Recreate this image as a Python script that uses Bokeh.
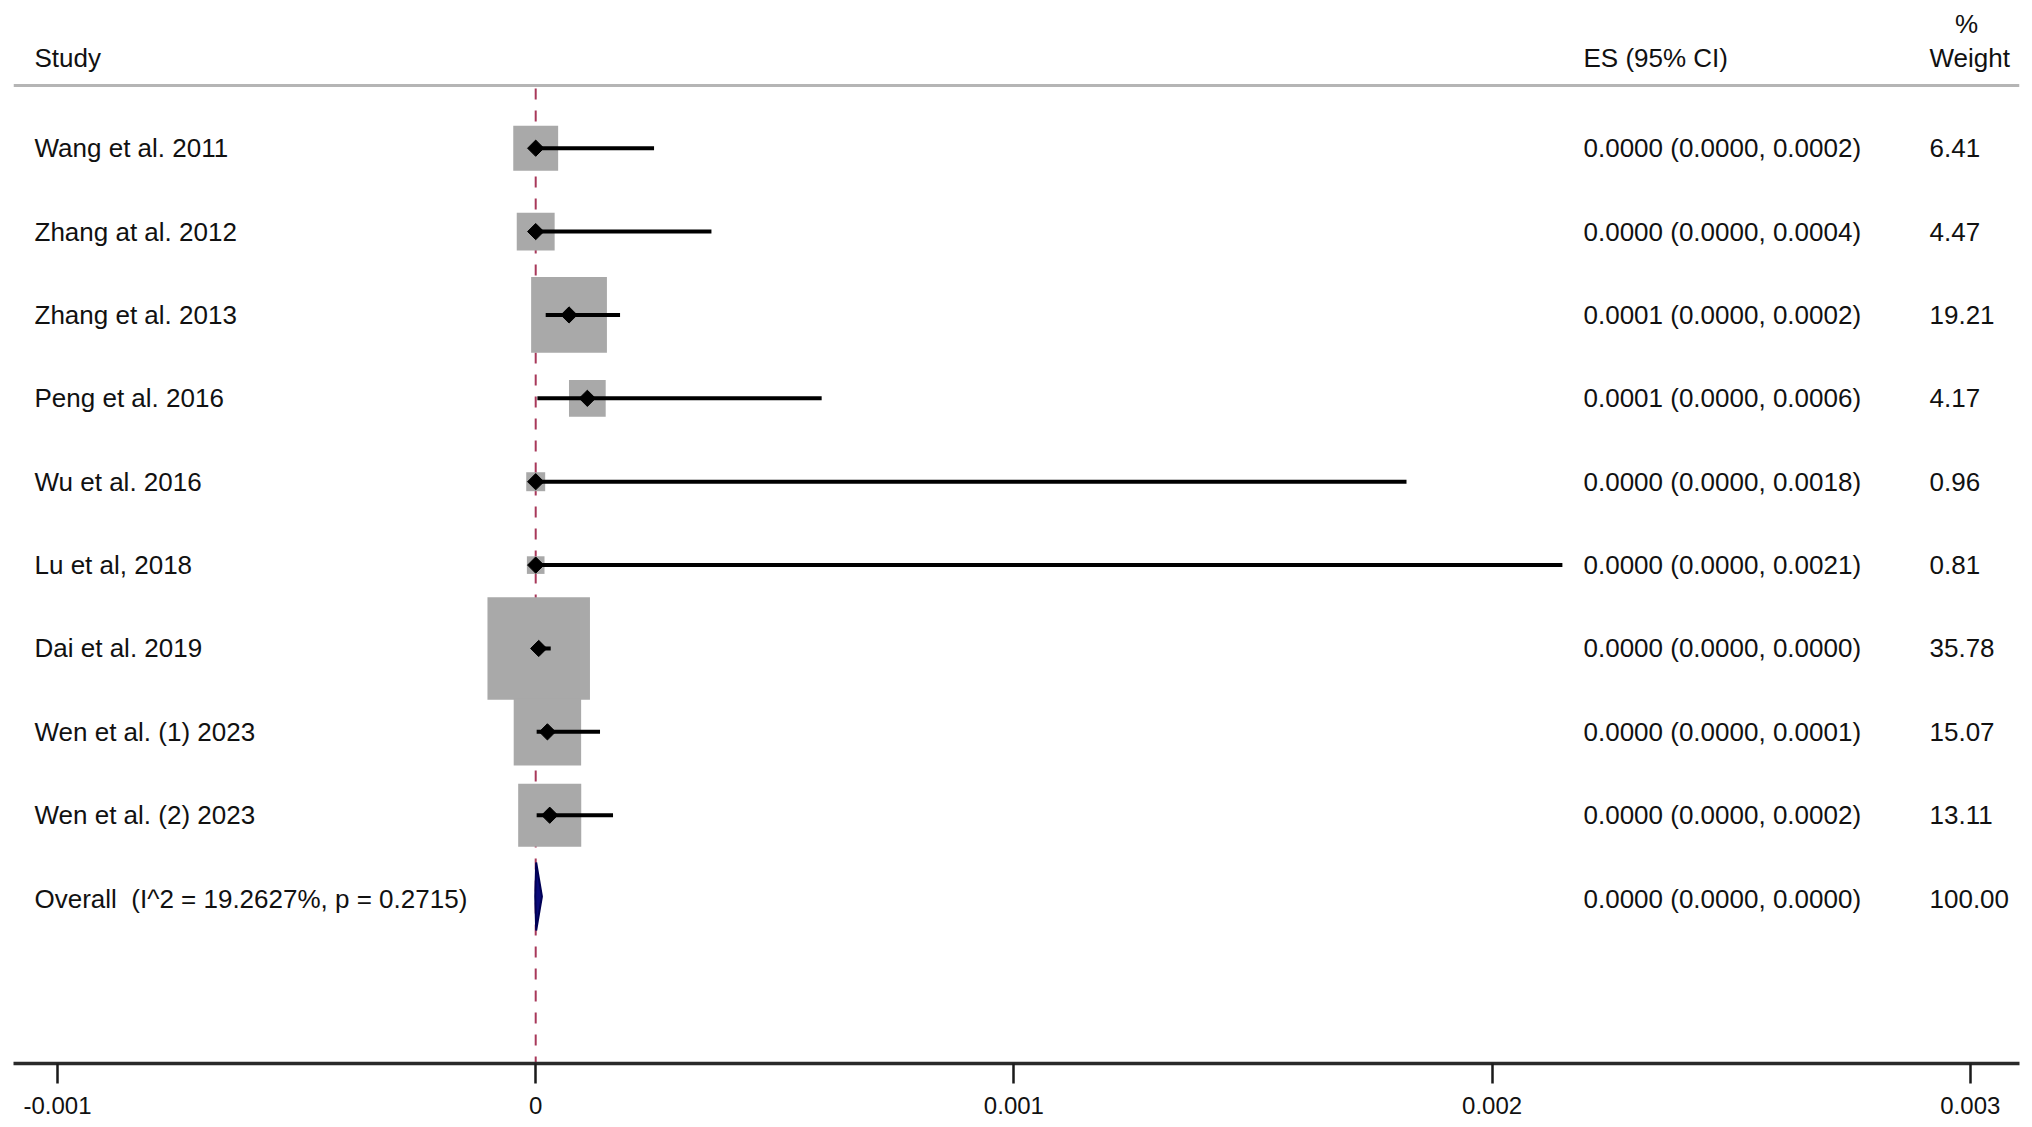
from bokeh.plotting import figure
from bokeh.models import Range1d, FixedTicker, CustomJSTickFormatter
from bokeh.core.properties import value
from bokeh.embed import file_html
from bokeh.resources import INLINE
import math

# ---------------- data ----------------
studies = ["Wang et al. 2011", "Zhang at al. 2012", "Zhang et al. 2013", "Peng et al. 2016",
           "Wu et al. 2016", "Lu et al, 2018", "Dai et al. 2019", "Wen et al. (1) 2023",
           "Wen et al. (2) 2023"]
es = [0.0000000, 0.0000000, 0.0000697, 0.0001080, 0.0000000, 0.0000000, 0.0000063, 0.0000245, 0.0000293]
ci_low = [0.0000000, 0.0000000, 0.0000209, 0.0000035, 0.0000000, 0.0000000, 0.0000000, 0.0000020, 0.0000020]
ci_high = [0.0002475, 0.0003675, 0.0001764, 0.0005980, 0.0018210, 0.0021470, 0.0000314, 0.0001345, 0.0001617]
es_labels = ["0.0000 (0.0000, 0.0002)", "0.0000 (0.0000, 0.0004)", "0.0001 (0.0000, 0.0002)",
             "0.0001 (0.0000, 0.0006)", "0.0000 (0.0000, 0.0018)", "0.0000 (0.0000, 0.0021)",
             "0.0000 (0.0000, 0.0000)", "0.0000 (0.0000, 0.0001)", "0.0000 (0.0000, 0.0002)"]
weights = [6.41, 4.47, 19.21, 4.17, 0.96, 0.81, 35.78, 15.07, 13.11]
weight_labels = ["6.41", "4.47", "19.21", "4.17", "0.96", "0.81", "35.78", "15.07", "13.11"]

overall_label = "Overall\u00a0 (I^2 = 19.2627%, p = 0.2715)"
overall_es = 0.0000010
overall_low = -0.0000010
overall_high = 0.0000130
overall_es_label = "0.0000 (0.0000, 0.0000)"
overall_weight_label = "100.00"

null_value = 0.0
x_ticks = [-0.001, 0.0, 0.001, 0.002, 0.003]
x_tick_labels = ["-0.001", "0", "0.001", "0.002", "0.003"]

header_study = "Study"
header_es = "ES (95% CI)"
header_pct = "%"
header_weight = "Weight"

# ---------------- layout helpers ----------------
FONT = value("Liberation Sans")
TXT = "#111111"
n = len(studies)
rows = list(range(1, n + 1))
overall_row = n + 1

# page-pixel geometry (frame spans page x 13..2019, y 8..1063)
row0_px, row_step_px = 147.7, 83.38
frame_top_px, frame_bot_px = 8.0, 1063.0
y_top = 1 + (frame_top_px - row0_px) / row_step_px
y_bot = 1 + (frame_bot_px - row0_px) / row_step_px
zero_px, px_per_unit = 535.2, 478.2 / 0.001
x_left = (13 - zero_px) / px_per_unit
x_right = (2019 - zero_px) / px_per_unit

p = figure(frame_width=2006, frame_height=1055, output_backend="svg", toolbar_location=None,
           x_range=Range1d(x_left, x_right), y_range=Range1d(y_bot, y_top),
           x_axis_location="below", y_axis_location=None,
           min_border_left=13, min_border_right=5, min_border_top=8, min_border_bottom=58,
           background_fill_color="white", border_fill_color="white")
p.extra_x_ranges = {"px": Range1d(13, 2019)}
p.extra_y_ranges = {"py": Range1d(frame_bot_px, frame_top_px)}
p.outline_line_color = None
p.grid.visible = False

# null line
p.segment(x0=[null_value], x1=[null_value], y0=[88], y1=[frame_bot_px], y_range_name="py",
          line_color="#a8385a", line_width=2, line_dash="11 11")

# header line
p.segment(x0=[13], x1=[2019], y0=[85], y1=[85], x_range_name="px", y_range_name="py",
          line_color="#b5b5b5", line_width=3)

# weight boxes (area proportional to weight)
sides = [2.6 + 16.7 * math.sqrt(w) for w in weights]
p.scatter(x=es, y=rows, size=sides, marker="square", fill_color="#a9a9a9", line_color=None)

# confidence intervals
p.segment(x0=ci_low, x1=ci_high, y0=rows, y1=rows, line_color="black", line_width=4)

# point estimates
p.scatter(x=es, y=rows, size=11.5, marker="square", angle=math.pi / 4,
          fill_color="black", line_color="black", line_width=1)

# overall diamond
h = 34 / row_step_px
yc = overall_row - 0.025
p.patch(x=[overall_low, overall_es, overall_high, overall_es],
        y=[yc, yc - h, yc, yc + h],
        fill_color="#0b0b7a", line_color="#000055", line_width=2)

# table texts
fs = value("26px")
p.text(x=[34] * (n + 1), y=rows + [overall_row], text=studies + [overall_label],
       x_range_name="px", text_font=FONT, text_font_size=fs, text_color=TXT,
       text_baseline="middle", text_align="left")
p.text(x=[1583] * (n + 1), y=rows + [overall_row], text=es_labels + [overall_es_label],
       x_range_name="px", text_font=FONT, text_font_size=fs, text_color=TXT,
       text_baseline="middle", text_align="left")
p.text(x=[1929] * (n + 1), y=rows + [overall_row], text=weight_labels + [overall_weight_label],
       x_range_name="px", text_font=FONT, text_font_size=fs, text_color=TXT,
       text_baseline="middle", text_align="left")

# headers
p.text(x=[34, 1583, 1929], y=[57, 57, 57], text=[header_study, header_es, header_weight],
       x_range_name="px", y_range_name="py", text_font=FONT, text_font_size=fs,
       text_color=TXT, text_baseline="middle", text_align="left")
p.text(x=[1966], y=[23], text=[header_pct], x_range_name="px", y_range_name="py",
       text_font=FONT, text_font_size=fs, text_color=TXT, text_baseline="middle",
       text_align="center")

# axis
ax = p.xaxis[0]
ax.ticker = FixedTicker(ticks=x_ticks)
ax.formatter = CustomJSTickFormatter(args=dict(tvals=x_ticks, tlabels=x_tick_labels), code="""
    let best = 0, bd = Infinity;
    for (let i = 0; i < tvals.length; i++) {
        const d = Math.abs(tvals[i] - tick);
        if (d < bd) { bd = d; best = i; }
    }
    return tlabels[best];
""")
ax.axis_line_width = 3.5
ax.axis_line_color = "#2a2a2a"
ax.major_tick_out = 20
ax.major_tick_in = 0
ax.major_tick_line_width = 2.5
ax.major_tick_line_color = "#1a1a1a"
ax.minor_tick_line_color = None
ax.major_label_text_font = "Liberation Sans"
ax.major_label_text_font_size = "24px"
ax.major_label_text_color = TXT
ax.major_label_standoff = 13

open("out.html", "w").write(file_html(p, INLINE))
